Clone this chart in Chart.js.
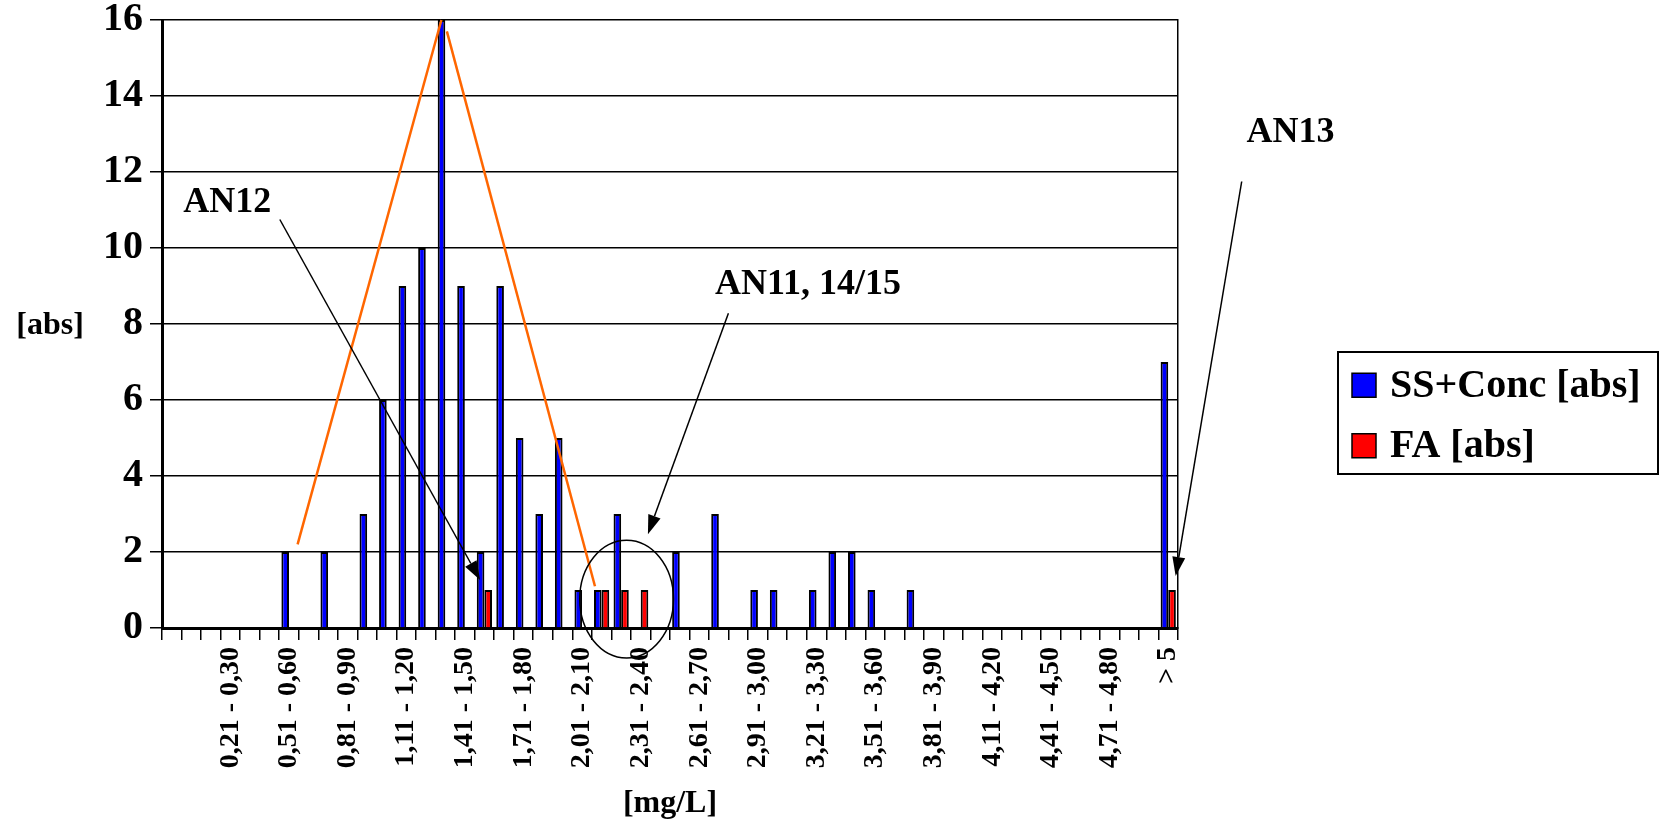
<!DOCTYPE html>
<html><head><meta charset="utf-8">
<script src="https://cdn.jsdelivr.net/npm/chart.js@4/dist/chart.umd.min.js"></script>
<style>html,body{margin:0;padding:0;background:#fff}</style>
</head><body>
<canvas id="c" width="1659" height="825"></canvas>
<script>
// ---- data ----
const categories = ['',
  '0,01 - 0,10','0,11 - 0,20','0,21 - 0,30','0,31 - 0,40','0,41 - 0,50','0,51 - 0,60','0,61 - 0,70','0,71 - 0,80','0,81 - 0,90','0,91 - 1,00',
  '1,01 - 1,10','1,11 - 1,20','1,21 - 1,30','1,31 - 1,40','1,41 - 1,50','1,51 - 1,60','1,61 - 1,70','1,71 - 1,80','1,81 - 1,90','1,91 - 2,00',
  '2,01 - 2,10','2,11 - 2,20','2,21 - 2,30','2,31 - 2,40','2,41 - 2,50','2,51 - 2,60','2,61 - 2,70','2,71 - 2,80','2,81 - 2,90','2,91 - 3,00',
  '3,01 - 3,10','3,11 - 3,20','3,21 - 3,30','3,31 - 3,40','3,41 - 3,50','3,51 - 3,60','3,61 - 3,70','3,71 - 3,80','3,81 - 3,90','3,91 - 4,00',
  '4,01 - 4,10','4,11 - 4,20','4,21 - 4,30','4,31 - 4,40','4,41 - 4,50','4,51 - 4,60','4,61 - 4,70','4,71 - 4,80','4,81 - 4,90','4,91 - 5,00',
  '> 5'];
const ssConc = [0,0,0,0,0,0,2,0,2,0, 3,6,9,10,16,9,2,9,5,3, 5,1,1,3,0,0,2,0,3,0, 1,1,0,1,2,2,1,0,1,0, 0,0,0,0,0,0,0,0,0,0, 0,7];
const fa     = [0,0,0,0,0,0,0,0,0,0, 0,0,0,0,0,0,1,0,0,0, 0,0,1,1,1,0,0,0,0,0, 0,0,0,0,0,0,0,0,0,0, 0,0,0,0,0,0,0,0,0,0, 0,1];
const seriesNames = ['SS+Conc [abs]', 'FA [abs]'];
const yTickStep = 2;
const yMax = 16;
const tickEvery = 3;

// annotations (data units: x = category index, y = count)
const trendLines = [[[6.44, 2.2], [13.8, 16]], [[14.08, 15.7], [21.66, 1.1]]];
const arrowFrom = [[5.53, 10.75], [28.49, 8.28], [54.76, 11.75]];
const arrowTo   = [[15.78, 1.26], [24.37, 2.47], [51.38, 1.37]];
const noteTexts = ['AN12', 'AN11, 14/15', 'AN13'];
const notePos   = [[0.59, 10.95], [27.8, 8.8], [55.0, 12.79]];
const circleAt  = {x: 23.28, y: 0.76, rx: 2.4, ry: 1.55};

const SERIF = "'Liberation Serif', 'Times New Roman', serif";
const LEGEND_GAP = 160;

const annotPlugin = {
  id: 'annot',
  afterDatasetsDraw(chart) {
    const ctx = chart.ctx;
    const xs = chart.scales.x, ys = chart.scales.y;
    const px = v => xs.getPixelForValue(v), py = v => ys.getPixelForValue(v);
    ctx.save();
    // orange trend lines
    ctx.strokeStyle = '#FF6600'; ctx.lineWidth = 2.5;
    trendLines.forEach(seg => {
      ctx.beginPath(); ctx.moveTo(px(seg[0][0]), py(seg[0][1])); ctx.lineTo(px(seg[1][0]), py(seg[1][1])); ctx.stroke();
    });
    // ellipse
    const cx = px(circleAt.x), cy = py(circleAt.y);
    const rx = Math.abs(px(circleAt.x + circleAt.rx) - cx);
    const ry = Math.abs(py(circleAt.y + circleAt.ry) - cy);
    ctx.strokeStyle = '#000'; ctx.lineWidth = 1.5;
    ctx.beginPath(); ctx.ellipse(cx, cy, rx, ry, 0, 0, Math.PI * 2); ctx.stroke();
    // arrows
    arrowFrom.forEach((f, i) => {
      const x1 = px(f[0]), y1 = py(f[1]), x2 = px(arrowTo[i][0]), y2 = py(arrowTo[i][1]);
      const ang = Math.atan2(y2 - y1, x2 - x1);
      const L = 19, W = 6.5;
      const bx = x2 - L * Math.cos(ang), by = y2 - L * Math.sin(ang);
      ctx.strokeStyle = '#000'; ctx.lineWidth = 1.5;
      ctx.beginPath(); ctx.moveTo(x1, y1); ctx.lineTo(bx, by); ctx.stroke();
      ctx.fillStyle = '#000';
      ctx.beginPath();
      ctx.moveTo(x2, y2);
      ctx.lineTo(bx + W * Math.sin(ang), by - W * Math.cos(ang));
      ctx.lineTo(bx - W * Math.sin(ang), by + W * Math.cos(ang));
      ctx.closePath(); ctx.fill();
    });
    // note texts
    ctx.fillStyle = '#000';
    ctx.font = 'bold 36px ' + SERIF;
    ctx.textAlign = 'left'; ctx.textBaseline = 'alphabetic';
    noteTexts.forEach((t, i) => ctx.fillText(t, px(notePos[i][0]), py(notePos[i][1])));
    ctx.restore();
  },
  afterDraw(chart) {
    const ctx = chart.ctx;
    const ys = chart.scales.y;
    ctx.save();
    // y-axis title (horizontal)
    ctx.fillStyle = '#000';
    ctx.font = 'bold 32px ' + SERIF;
    ctx.textAlign = 'center'; ctx.textBaseline = 'middle';
    ctx.fillText('[abs]', 50, ys.getPixelForValue(8) + 2);
    // legend (from datasets)
    const ds = chart.data.datasets;
    const fontSize = 40, box = 24, rowH = 60.5;
    const left = chart.chartArea.right + LEGEND_GAP;
    const blockH = ds.length * rowH;
    const top0 = chart.height / 2 - blockH / 2 + 3;
    ctx.font = 'bold ' + fontSize + 'px ' + SERIF;
    ctx.textAlign = 'left'; ctx.textBaseline = 'middle';
    ds.forEach((d, i) => {
      const cy = top0 + rowH * (i + 0.5);
      ctx.fillStyle = d.backgroundColor;
      ctx.fillRect(left + 14, cy - box / 2, box, box);
      ctx.strokeStyle = '#000'; ctx.lineWidth = 1.5;
      ctx.strokeRect(left + 14, cy - box / 2, box, box);
      ctx.fillStyle = '#000';
      ctx.fillText(d.label, left + 52, cy + 1);
    });
    ctx.strokeStyle = '#000'; ctx.lineWidth = 2;
    ctx.strokeRect(left, top0 - 3, chart.width - 1 - left, blockH + 1);
    ctx.restore();
  }
};

new Chart(document.getElementById('c'), {
  type: 'bar',
  data: {
    labels: categories,
    datasets: [
      { label: seriesNames[0], data: ssConc, backgroundColor: '#0000FF', borderColor: '#000000', borderWidth: 2 },
      { label: seriesNames[1], data: fa, backgroundColor: '#FF0000', borderColor: '#000000', borderWidth: 2 }
    ]
  },
  options: {
    responsive: false,
    animation: false,
    devicePixelRatio: 1,
    layout: { padding: { left: 0, top: 0, bottom: 0, right: 481 } },
    datasets: { bar: { categoryPercentage: 0.78, barPercentage: 1 } },
    plugins: {
      tooltip: { enabled: false },
      legend: { display: false }
    },
    scales: {
      x: {
        type: 'category',
        offset: true,
        grid: { display: true, drawOnChartArea: false, drawTicks: true, tickLength: 12, color: '#000', lineWidth: 1.5, offset: true },
        border: { display: true, color: '#000', width: 3 },
        ticks: {
          autoSkip: false, maxRotation: 90, minRotation: 90, padding: 7,
          color: '#000', font: { family: SERIF, size: 28, weight: 'bold' },
          callback: (v, i) => (i % tickEvery === 0 ? categories[i] : '')
        },
        title: { display: true, text: '[mg/L]', color: '#000', font: { family: SERIF, size: 32, weight: 'bold' }, padding: { top: 0, bottom: 2 } },
        afterFit: s => { s.height = 197; }
      },
      y: {
        min: 0, max: yMax,
        ticks: { stepSize: yTickStep, padding: 7, color: '#000', font: { family: SERIF, size: 40, weight: 'bold', lineHeight: 0.65 } },
        grid: { color: '#000', lineWidth: 1.5, tickLength: 12 },
        border: { display: true, color: '#000', width: 3 },
        afterFit: s => { s.width = 162; }
      },
      yr: {
        type: 'linear', position: 'right', display: true,
        grid: { display: false, drawTicks: false },
        ticks: { display: false },
        border: { display: true, color: '#000', width: 1.5 },
        afterFit: s => { s.width = 0; }
      }
    }
  },
  plugins: [annotPlugin]
});
</script>
</body></html>
